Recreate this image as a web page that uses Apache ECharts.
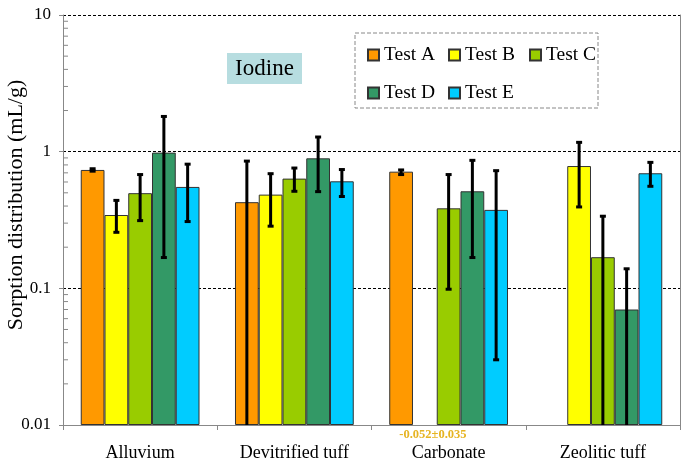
<!DOCTYPE html>
<html>
<head>
<meta charset="utf-8">
<script src="https://cdn.jsdelivr.net/npm/echarts@6/dist/echarts.min.js"></script>
<style>
  html, body { margin: 0; padding: 0; background: #fff; }
  #chart { width: 685px; height: 464px; }
</style>
</head>
<body>
<div id="chart"></div>
<script>
// categories and tests
var categories = ['Alluvium', 'Devitrified tuff', 'Carbonate', 'Zeolitic tuff'];
var testNames = ['Test A', 'Test B', 'Test C', 'Test D', 'Test E'];
var colors = ['#ff9900', '#ffff00', '#99cc00', '#339966', '#00ccff'];

// sorption values (mL/g), null = no bar
var testA = [0.735, 0.427, 0.714, null];
var testB = [0.344, 0.485, null, 0.785];
var testC = [0.497, 0.635, 0.385, 0.169];
var testD = [0.984, 0.894, 0.513, 0.070];
var testE = [0.552, 0.607, 0.375, 0.695];

// error bar upper / lower ends (null lower = below the axis)
var hiA = [0.75, 0.853, 0.735, null];
var loA = [0.72, null, 0.68, null];
var hiB = [0.44, 0.69, null, 1.17];
var loB = [0.257, 0.285, null, 0.394];
var hiC = [0.68, 0.759, 0.68, 0.337];
var loC = [0.313, 0.513, 0.0985, null];
var hiD = [1.81, 1.28, 0.864, 0.139];
var loD = [0.168, 0.51, 0.168, null];
var hiE = [0.81, 0.74, 0.726, 0.835];
var loE = [0.308, 0.47, 0.030, 0.558];

// note for a negative result that cannot be drawn on a log axis
var noteCat = 2, noteSeries = 1, noteText = '-0.052\u00b10.035';

// minor tick values of the log axis
var minorTicks = [0.02, 0.03, 0.04, 0.05, 0.06, 0.07, 0.08, 0.09,
                  0.2, 0.3, 0.4, 0.5, 0.6, 0.7, 0.8, 0.9,
                  2, 3, 4, 5, 6, 7, 8, 9];

var values = [testA, testB, testC, testD, testE];
var errHi = [hiA, hiB, hiC, hiD, hiE];
var errLo = [loA, loB, loC, loD, loE];

var serif = '"Liberation Serif", "Times New Roman", serif';
var gapPct = 0.23;

var chart = echarts.init(document.getElementById('chart'));

var barSeries = testNames.map(function (name, i) {
  return {
    name: name,
    type: 'bar',
    data: values[i],
    barGap: 0,
    barCategoryGap: (gapPct * 100) + '%',
    itemStyle: { color: colors[i], borderColor: '#333', borderWidth: 1 },
    z: 2
  };
});

var errItems = [];
errHi.forEach(function (arr, s) {
  arr.forEach(function (v, c) {
    if (v != null) errItems.push([c, v, s]);
  });
});

function barX(api, c, s) {
  var band = api.size([1, 0])[0];
  var bw = band * (1 - gapPct) / testNames.length;
  return api.coord([c, 1])[0] + (s - (testNames.length - 1) / 2) * bw;
}

var errSeries = {
  type: 'custom',
  name: 'err',
  data: errItems,
  encode: { x: 0, y: 1 },
  z: 5,
  renderItem: function (params, api) {
    var c = api.value(0), hi = api.value(1), s = api.value(2);
    var lo = errLo[s][c];
    var cs = params.coordSys;
    var x = barX(api, c, s);
    var yHi = api.coord([c, hi])[1];
    var yLo = lo == null ? cs.y + cs.height : api.coord([c, lo])[1];
    var st = { stroke: '#000', lineWidth: 3 };
    var kids = [
      { type: 'line', shape: { x1: x, y1: yHi, x2: x, y2: yLo }, style: st },
      { type: 'line', shape: { x1: x - 3, y1: yHi, x2: x + 3, y2: yHi }, style: st }
    ];
    if (lo != null) {
      kids.push({ type: 'line', shape: { x1: x - 3, y1: yLo, x2: x + 3, y2: yLo }, style: st });
    }
    return { type: 'group', children: kids };
  }
};

var minorSeries = {
  type: 'custom',
  name: 'minor',
  data: minorTicks.map(function (v) { return [0, v]; }),
  encode: { x: 0, y: 1 },
  silent: true,
  renderItem: function (params, api) {
    var y = api.coord([0, api.value(1)])[1];
    var x0 = params.coordSys.x;
    return { type: 'line', shape: { x1: x0, y1: y, x2: x0 + 5, y2: y },
             style: { stroke: '#888', lineWidth: 1 } };
  }
};

var noteSeries = {
  type: 'custom',
  name: 'note',
  data: [[noteCat, 1, noteSeries]],
  encode: { x: 0, y: 1 },
  silent: true,
  renderItem: function (params, api) {
    var c = api.value(0), s = api.value(2);
    var cs = params.coordSys;
    return {
      type: 'text',
      style: {
        x: barX(api, c, s) + 8, y: cs.y + cs.height + 10,
        text: noteText, align: 'center', verticalAlign: 'middle',
        fill: '#e6b422', font: 'bold 12.5px ' + serif
      }
    };
  }
};

function legendCol(left, data) {
  return {
    orient: 'vertical',
    left: left,
    top: 40,
    itemGap: 18,
    itemWidth: 11,
    itemHeight: 11,
    icon: 'rect',
    data: data,
    selectedMode: false,
    textStyle: { fontFamily: serif, fontSize: 19.5, color: '#000' }
  };
}

chart.setOption({
  animation: false,
  grid: { left: 63, right: 5, top: 15, bottom: 39, containLabel: false, outerBoundsMode: 'none' },
  legend: [
    legendCol(362, ['Test A', 'Test D']),
    legendCol(443, ['Test B', 'Test E']),
    legendCol(524, ['Test C'])
  ],
  graphic: [
    {
      type: 'rect',
      shape: { x: 355, y: 33, width: 243, height: 75 },
      style: { fill: 'none', stroke: '#888', lineWidth: 1, lineDash: [4, 2] },
      z: 1
    },
    {
      type: 'group',
      left: 227, top: 53,
      children: [
        { type: 'rect', shape: { x: 0, y: 0, width: 75, height: 31 }, style: { fill: '#b7dde0' } },
        { type: 'text', style: { x: 37.5, y: 16, text: 'Iodine', align: 'center', verticalAlign: 'middle',
                                 font: '23px ' + serif, fill: '#000' } }
      ]
    }
  ],
  xAxis: {
    type: 'category',
    data: categories,
    axisLine: { lineStyle: { color: '#888' } },
    axisTick: { show: true, length: 5, lineStyle: { color: '#888' } },
    axisLabel: { fontFamily: serif, fontSize: 18, color: '#000', margin: 19 }
  },
  yAxis: [
    {
      type: 'log',
      logBase: 10,
      min: 0.01,
      max: 10,
      startValue: 0.01,
      name: 'Sorption distribution (mL/g)',
      nameLocation: 'middle',
      nameGap: 36,
      nameMoveOverlap: false,
      nameTextStyle: { fontFamily: serif, fontSize: 22, color: '#000', padding: [0, 0, 0, 30] },
      axisLine: { show: true, lineStyle: { color: '#888' } },
      axisTick: { show: true, length: 4, lineStyle: { color: '#888' } },
      axisLabel: {
        fontFamily: serif, fontSize: 17, color: '#000', margin: 12,
        formatter: function (v) { return String(+v.toPrecision(3)); }
      },
      splitLine: { show: true, lineStyle: { color: '#000', type: [3, 2], width: 1 } }
    },
    {
      type: 'value',
      position: 'right',
      axisLine: { show: true, lineStyle: { color: '#888' } },
      axisTick: { show: false },
      axisLabel: { show: false },
      splitLine: { show: false }
    }
  ],
  series: barSeries.concat([errSeries, minorSeries, noteSeries])
});
</script>
</body>
</html>
